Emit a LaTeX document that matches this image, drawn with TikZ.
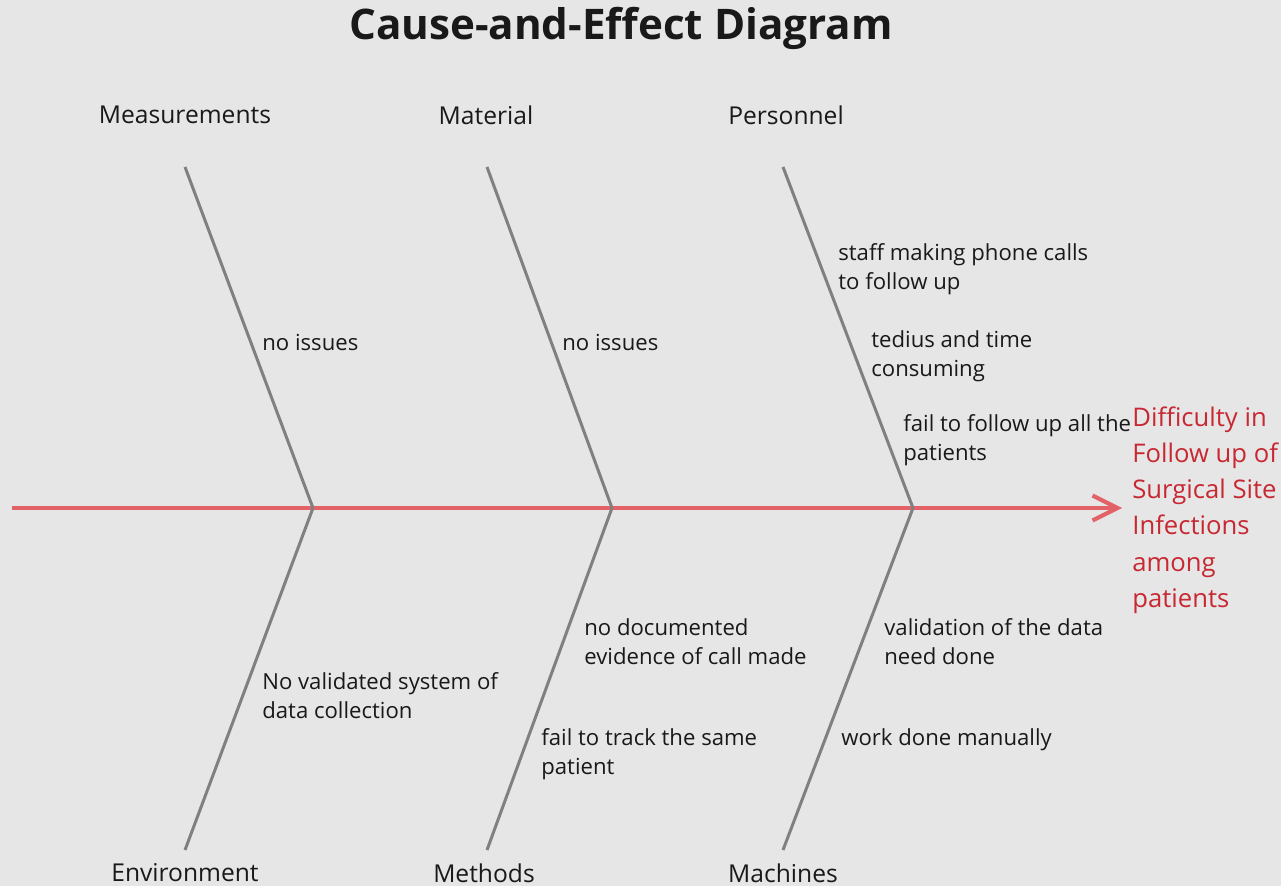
\documentclass[tikz,border=0pt]{standalone}
\usepackage{fontspec}
\setmainfont{Open Sans}
\usetikzlibrary{arrows.meta,positioning}

\definecolor{bg}{RGB}{230,230,230}
\definecolor{bonegray}{RGB}{128,128,128}
\definecolor{spinered}{RGB}{226,98,104}
\definecolor{effectred}{RGB}{200,40,50}
\definecolor{txt}{RGB}{25,25,25}

\tikzset{
  bone/.style={draw=bonegray, line width=1.7pt},
  spine/.style={draw=spinered, line width=2.3pt, -{Straight Barb[length=0.5cm, width=0.5cm, line width=2.3pt]}},
  cat/.style={font=\fontsize{14}{17}\selectfont, text=txt},
  cause/.style={font=\fontsize{12.6}{16.4}\selectfont, align=left, anchor=west, inner sep=0pt, text=txt},
  effect/.style={font=\fontsize{14.6}{20.6}\selectfont, align=left, anchor=west, inner sep=0pt, text=effectred}
}

\begin{document}
\begin{tikzpicture}[x=0.02cm, y=-0.02cm]
\fill[bg] (0,0) rectangle (1281,886);
\useasboundingbox (0,0) rectangle (1281,886);

% Title
\node[font=\bfseries\fontsize{24}{28}\selectfont, text=txt] (title) at (621,28) {Cause-and-Effect Diagram};

% Effect and spine
\node[effect] (effect) at (1132,510) {Difficulty in\\Follow up of\\Surgical Site\\Infections\\among\\patients};
\coordinate (tail) at (12,508);
\draw[spine, shorten >=0.2cm] (tail) -- (tail -| effect.west);

% Joints on the spine
\foreach \n/\x in {1/313, 2/612, 3/913}
  \coordinate (j\n) at (\x,508);

% Categories
\node[cat] (meas) at (185,115) {Measurements};
\node[cat] (mat) at (486,115) {Material};
\node[cat] (pers) at (786,115) {Personnel};
\node[cat] (env) at (185,873) {Environment};
\node[cat] (meth) at (484,873) {Methods};
\node[cat] (mach) at (783,873) {Machines};

% Bone ends
\foreach \n/\x in {1/185, 2/487, 3/783} {
  \coordinate (t\n) at (\x,167);
  \coordinate (b\n) at (\x,850);
}

% Bones
\foreach \n in {1,2,3} {
  \draw[bone] (t\n) -- (j\n);
  \draw[bone] (j\n) -- (b\n);
}

% Causes
\node[cause] (c1) at (262,342) {no issues};
\node[cause] (c2) at (562,342) {no issues};
\node[cause] (c3) at (838,269.5) {staff making phone calls\\to follow up};
\node[cause] (c4) at (871,356.5) {tedius and time\\consuming};
\node[cause] (c5) at (903,440.5) {fail to follow up all the\\patients};
\node[cause] (c6) at (262,696) {No validated system of\\data collection};
\node[cause] (c7) at (584,641.5) {no documented\\evidence of call made};
\node[cause] (c8) at (541,754) {fail to track the same\\patient};
\node[cause] (c9) at (884,641.5) {validation of the data\\need done};
\node[cause] (c10) at (841,740) {work done manually};
\end{tikzpicture}
\end{document}
